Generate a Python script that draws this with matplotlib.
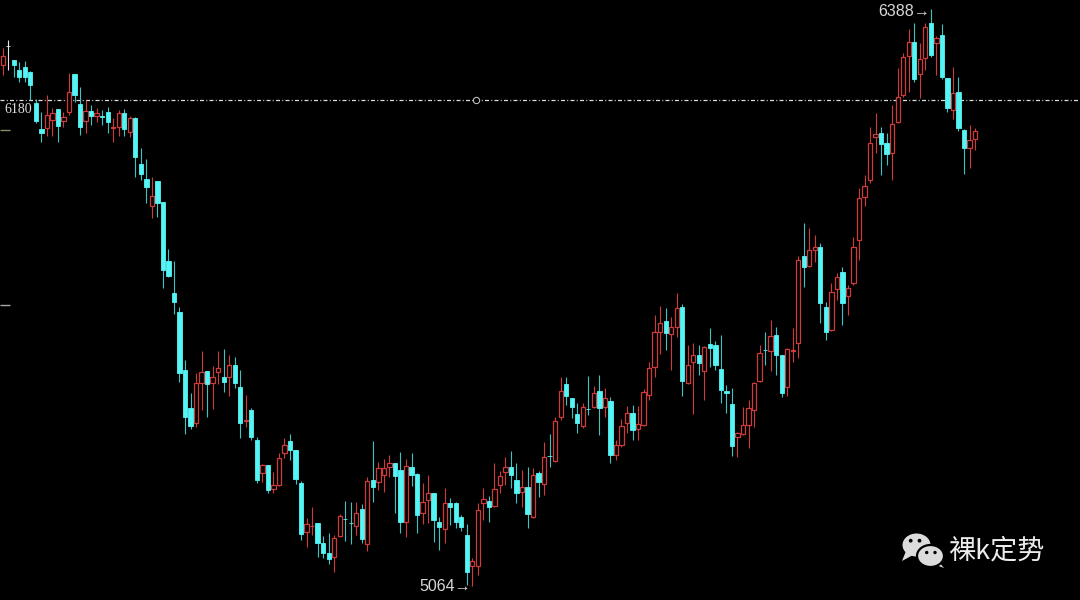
import numpy as np
import matplotlib
matplotlib.use("Agg")
import matplotlib.pyplot as plt
from matplotlib.patches import Ellipse, Polygon, Circle

# daily candles (open, high, low, close)
opens = [6260, 6303, 6271, 6248, 6255, 6244, 6173, 6113, 6115, 6134, 6159, 6131, 6152, 6239, 6170, 6131, 6154, 6143, 6142, 6152,
         6115, 6118, 6150, 6106, 6138, 6033, 5998, 5936, 5994, 5945, 5810, 5737, 5693, 5560, 5473, 5438, 5530, 5558, 5530, 5555,
         5544, 5544, 5571, 5521, 5444, 5468, 5399, 5323, 5342, 5287, 5296, 5369, 5397, 5376, 5300, 5188, 5202, 5209, 5163, 5140,
         5131, 5179, 5219, 5210, 5202, 5241, 5161, 5307, 5303, 5319, 5337, 5346, 5330, 5211, 5337, 5321, 5232, 5262, 5278, 5211,
         5195, 5255, 5255, 5222, 5181, 5110, 5110, 5255, 5259, 5248, 5296, 5326, 5337, 5307, 5280, 5291, 5222, 5323, 5298, 5363,
         5351, 5452, 5528, 5496, 5459, 5431, 5471, 5475, 5512, 5475, 5489, 5365, 5388, 5438, 5461, 5424, 5434, 5502, 5567, 5647,
         5672, 5643, 5659, 5704, 5530, 5578, 5594, 5558, 5620, 5617, 5562, 5512, 5482, 5406, 5413, 5434, 5468, 5535, 5607, 5603,
         5640, 5594, 5521, 5605, 5622, 5822, 5799, 5835, 5842, 5704, 5652, 5746, 5785, 5730, 5760, 5858, 5957, 5996, 6095, 6104,
         6081, 6058, 6129, 6191, 6280, 6313, 6239, 6276, 6356, 6310, 6329, 6230, 6157, 6198, 6111, 6069, 6090]
highs = [6299, 6317, 6271, 6267, 6269, 6246, 6182, 6152, 6191, 6161, 6160, 6152, 6241, 6240, 6209, 6180, 6168, 6161, 6157, 6163,
         6138, 6157, 6159, 6143, 6140, 6069, 6044, 6003, 5995, 5946, 5838, 5810, 5704, 5583, 5507, 5553, 5603, 5559, 5569, 5603,
         5608, 5594, 5590, 5560, 5502, 5473, 5406, 5344, 5343, 5326, 5369, 5404, 5413, 5377, 5305, 5220, 5245, 5210, 5179, 5186,
         5181, 5229, 5259, 5257, 5257, 5252, 5314, 5397, 5349, 5356, 5365, 5347, 5372, 5356, 5369, 5324, 5300, 5319, 5279, 5222,
         5289, 5266, 5257, 5227, 5206, 5128, 5255, 5289, 5271, 5346, 5328, 5360, 5374, 5346, 5330, 5337, 5335, 5328, 5395, 5413,
         5452, 5544, 5544, 5497, 5484, 5484, 5546, 5523, 5548, 5519, 5498, 5399, 5447, 5477, 5480, 5477, 5516, 5578, 5686, 5707,
         5702, 5681, 5737, 5711, 5617, 5622, 5617, 5615, 5656, 5626, 5640, 5525, 5519, 5418, 5475, 5491, 5532, 5617, 5647, 5675,
         5659, 5595, 5610, 5656, 5822, 5897, 5886, 5870, 5851, 5716, 5760, 5782, 5796, 5755, 5865, 5978, 6007, 6118, 6150, 6118,
         6104, 6168, 6253, 6287, 6342, 6356, 6310, 6356, 6388, 6326, 6354, 6231, 6255, 6232, 6113, 6122, 6115]
lows = [6237, 6248, 6232, 6221, 6221, 6180, 6128, 6083, 6097, 6097, 6083, 6118, 6145, 6175, 6099, 6104, 6122, 6129, 6122, 6104,
        6083, 6097, 6097, 6095, 6003, 5996, 5944, 5909, 5911, 5748, 5773, 5688, 5532, 5413, 5424, 5429, 5468, 5452, 5470, 5528,
        5509, 5500, 5519, 5404, 5429, 5399, 5300, 5303, 5278, 5278, 5295, 5358, 5353, 5298, 5170, 5154, 5181, 5131, 5128, 5115,
        5096, 5177, 5167, 5160, 5181, 5163, 5144, 5257, 5284, 5280, 5314, 5232, 5186, 5177, 5294, 5186, 5206, 5209, 5165, 5147,
        5163, 5204, 5197, 5190, 5066, 5064, 5089, 5216, 5211, 5245, 5278, 5296, 5289, 5255, 5245, 5197, 5221, 5268, 5273, 5337,
        5350, 5445, 5480, 5450, 5415, 5427, 5457, 5473, 5411, 5452, 5346, 5353, 5383, 5415, 5399, 5399, 5431, 5491, 5544, 5597,
        5606, 5560, 5636, 5500, 5529, 5459, 5548, 5491, 5567, 5560, 5484, 5461, 5362, 5360, 5411, 5381, 5429, 5532, 5571, 5558,
        5548, 5498, 5500, 5578, 5587, 5750, 5796, 5808, 5668, 5629, 5649, 5721, 5663, 5686, 5755, 5812, 5936, 5989, 6058, 6007,
        6030, 5996, 6127, 6186, 6198, 6221, 6184, 6248, 6278, 6237, 6228, 6152, 6136, 6108, 6010, 6023, 6065]
closes = [6280, 6303, 6260, 6232, 6232, 6214, 6131, 6104, 6145, 6150, 6120, 6141, 6198, 6191, 6118, 6154, 6143, 6150, 6140, 6129,
          6118, 6150, 6113, 6138, 6049, 6010, 5980, 5959, 5943, 5789, 5776, 5716, 5553, 5452, 5431, 5530, 5555, 5528, 5544, 5564,
          5532, 5571, 5530, 5438, 5445, 5406, 5307, 5342, 5284, 5296, 5358, 5388, 5376, 5310, 5184, 5206, 5203, 5163, 5140, 5126,
          5174, 5225, 5218, 5209, 5232, 5172, 5305, 5291, 5335, 5335, 5346, 5317, 5211, 5340, 5319, 5227, 5257, 5278, 5216, 5200,
          5255, 5245, 5211, 5200, 5096, 5122, 5239, 5264, 5245, 5287, 5317, 5337, 5319, 5278, 5291, 5229, 5319, 5303, 5360, 5362,
          5443, 5512, 5500, 5475, 5438, 5475, 5470, 5507, 5473, 5496, 5365, 5388, 5431, 5461, 5422, 5436, 5509, 5564, 5647, 5668,
          5645, 5659, 5702, 5535, 5571, 5594, 5576, 5613, 5610, 5571, 5514, 5507, 5385, 5415, 5434, 5473, 5530, 5599, 5606, 5638,
          5594, 5507, 5608, 5606, 5812, 5796, 5835, 5842, 5714, 5647, 5739, 5773, 5714, 5748, 5842, 5955, 5982, 6081, 6101, 6079,
          6056, 6124, 6186, 6278, 6313, 6228, 6274, 6347, 6283, 6322, 6232, 6161, 6196, 6115, 6069, 6088, 6108]

ref_level = 6180          # dash-dot line
side_marks = [6110, 5710]  # small marks on the left edge
marker_idx = 85.7          # small circle on the dash-dot line

UP = "#cf3a3a"
DOWN = "#55f5f5"
DOWN_WICK = "#3cc4c4"
FLAT = "#e6e6e6"

o = np.array(opens); h = np.array(highs); l = np.array(lows); c = np.array(closes)
x = np.arange(len(o))

fig = plt.figure(figsize=(10.8, 6), dpi=100, facecolor="black")
ax = fig.add_axes([0, 0, 1, 1])
ax.set_facecolor("black")
ax.set_xlim(-0.49, 195.0)
ax.set_ylim(5032.5, 6409.3)
ax.axis("off")

wick_colors = np.where(c > o, UP, np.where(c < o, DOWN_WICK, FLAT))
ax.vlines(x, l, h, colors=wick_colors, linewidth=0.8, zorder=2)

up = c > o
down = c < o
flat = c == o
w = 0.78
ax.bar(x[up], (c - o)[up], bottom=o[up], width=w, facecolor="black",
       edgecolor=UP, linewidth=0.9, zorder=3)
ax.bar(x[down], (o - c)[down], bottom=c[down], width=w, facecolor=DOWN,
       edgecolor=DOWN, linewidth=0.6, zorder=3)
ax.bar(x[flat], 1, bottom=o[flat], width=w, facecolor=FLAT,
       edgecolor=FLAT, linewidth=0.6, zorder=3)

# reference line
ax.axhline(ref_level, color="#dcdcdc", linewidth=0.9, linestyle=(0, (3.2, 1.8, 0.8, 1.8)), zorder=1)
ax.plot([marker_idx], [ref_level], marker="o", markersize=4.5, markerfacecolor="black",
        markeredgecolor="#bbbbbb", markeredgewidth=0.8, zorder=4)
ax.annotate(str(ref_level), xy=(0, ref_level), xycoords=("axes fraction", "data"),
            xytext=(4, -10), textcoords="offset pixels", ha="left", va="center",
            fontsize=10, family="Liberation Serif", color="#dddddd")
ax.hlines(side_marks, -0.49, 1.4, colors=["#8c8a6a", "#a8a8a8"], linewidth=1.0)

# high / low labels
ih = int(np.argmax(h)); il = int(np.argmin(l))
ax.annotate(f"{h[ih]}→", xy=(ih, h[ih]), xytext=(-1, -2), textcoords="offset pixels",
            ha="right", va="center", fontsize=11.5, color="#d8d8d8",
            family=["Liberation Sans", "DejaVu Sans"])
ax.annotate(f"{l[il]}→", xy=(il, l[il]), xytext=(-1, 0), textcoords="offset pixels",
            ha="right", va="center", fontsize=11.5, color="#d8d8d8",
            family=["Liberation Sans", "DejaVu Sans"])

# watermark: chat-bubble icon + name
ov = fig.add_axes([0, 0, 1, 1])
ov.set_xlim(0, 1080); ov.set_ylim(600, 0); ov.axis("off")
ov.patch.set_alpha(0)
bub = "#dcdcdc"
ov.add_patch(Polygon([(906, 551), (902, 561), (913, 555)], closed=True, fc=bub, ec="none"))
ov.add_patch(Ellipse((916.5, 545), 28, 23, fc=bub, ec="none"))
ov.add_patch(Polygon([(938, 561), (944, 568), (933, 564)], closed=True, fc=bub, ec="none"))
ov.add_patch(Ellipse((930.5, 556), 27, 22, fc=bub, ec="black", lw=1.6))
for ex, ey, r in [(910.7, 540.7, 1.9), (919.5, 540.7, 1.9), (926.7, 552.5, 1.7), (935, 552.5, 1.7)]:
    ov.add_patch(Circle((ex, ey), r, fc="black", ec="none"))
ov.text(948, 551, "裸k定势", ha="left", va="center", fontsize=19.5, color="#ececec",
        family=["Noto Sans CJK SC", "DejaVu Sans"])

fig.savefig("out.png", dpi=100, facecolor="black")
